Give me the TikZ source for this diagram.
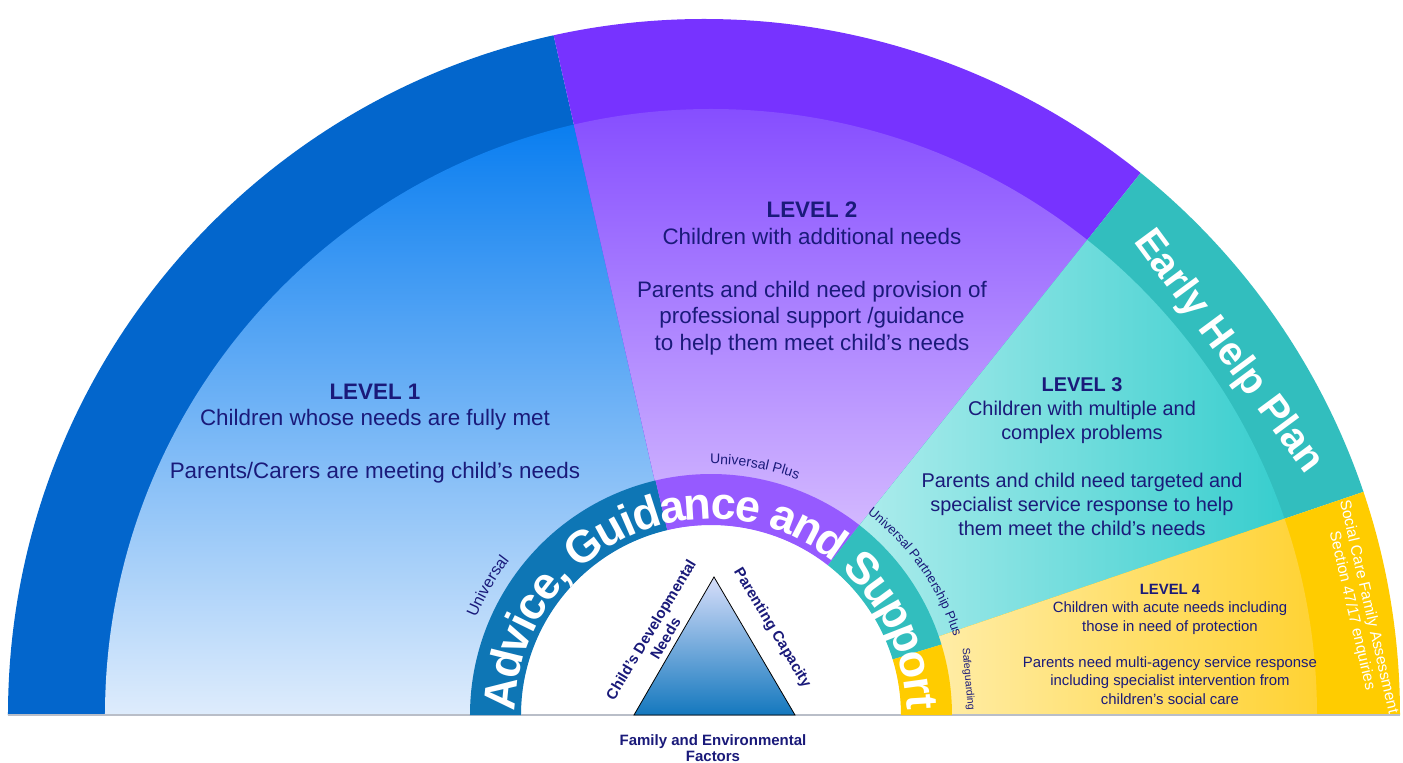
\documentclass[tikz,border=0pt]{standalone}
\usepackage{fontspec}
\setmainfont{Liberation Sans}
\usetikzlibrary{decorations.text}

\definecolor{navy}{RGB}{26,26,122}
\definecolor{bandblue}{RGB}{3,102,204}
\definecolor{bandpurple}{RGB}{119,51,255}
\definecolor{bandteal}{RGB}{50,190,190}
\definecolor{bandyellow}{RGB}{255,204,0}
\definecolor{ringblue}{RGB}{14,118,181}
\definecolor{ringpurple}{RGB}{150,90,255}
\definecolor{ringteal}{RGB}{50,190,190}
\definecolor{ringyellow}{RGB}{255,204,0}
\definecolor{baselinegray}{RGB}{185,190,200}

\begin{document}
\begin{tikzpicture}[x=1pt,y=1pt,
  lvltext/.style={text=navy, align=center, inner sep=0pt, anchor=north},
  whitelabel/.style={text=white, align=center, inner sep=0pt},
  navylabel/.style={text=navy, align=center, inner sep=0pt}]
\useasboundingbox (-708,-48) rectangle (695,715);
\fill[white] (-708,-48) rectangle (695,715);

% ---- Level 1 sector ----
\begin{scope}
  \clip (0,0) -- (102.8:1500) -- (180:1500) -- cycle;
  \fill[bandblue] (-4,0) circle[radius=696];
  \clip (3,0) circle[radius=606];
  \shade[top color={rgb,255:red,8;green,125;blue,240}, bottom color={rgb,255:red,222;green,236;blue,252}] (-615,0) rectangle (0,595);
\end{scope}

% ---- Level 2 sector ----
\begin{scope}
  \clip (0,0) -- (51.4:1500) -- (102.8:1500) -- cycle;
  \fill[bandpurple] (-4,0) circle[radius=696];
  \clip (3,0) circle[radius=606];
  \shade[top color={rgb,255:red,134;green,78;blue,255}, bottom color={rgb,255:red,245;green,232;blue,255}] (-140,0) rectangle (390,606);
\end{scope}

% ---- Level 3 sector ----
\begin{scope}
  \clip (0,0) -- (18.8:1500) -- (51.4:1500) -- cycle;
  \fill[bandteal] (-4,0) circle[radius=696];
  \clip (3,0) circle[radius=606];
  \shade[left color={rgb,255:red,215;green,247;blue,247}, right color={rgb,255:red,45;green,203;blue,203}] (0,0) rectangle (612,480);
\end{scope}

% ---- Level 4 sector ----
\begin{scope}
  \clip (0,0) -- (0:1500) -- (18.8:1500) -- cycle;
  \fill[bandyellow] (-4,0) circle[radius=696];
  \clip (3,0) circle[radius=606];
  \shade[left color={rgb,255:red,255;green,242;blue,190}, right color={rgb,255:red,255;green,210;blue,50}] (150,0) rectangle (612,200);
\end{scope}

% ---- baseline ----
\coordinate (baseL) at (-700,0);
\coordinate (baseR) at (692,0);
\draw[baselinegray, line width=1.8] (baseL) -- (baseR);

% ---- inner ring and white core ----
\begin{scope}[shift={(3,0)}]
  \fill[white] (190,0) arc[start angle=0, end angle=180, radius=190] -- cycle;
  \fill[ringblue] (180:241) arc[start angle=180, end angle=103.3, radius=241]
     -- (103.3:190) arc[start angle=103.3, end angle=180, radius=190] -- cycle;
  \fill[ringpurple] (103.3:241) arc[start angle=103.3, end angle=52, radius=241]
     -- (52:190) arc[start angle=52, end angle=103.3, radius=190] -- cycle;
  \fill[ringteal] (52:241) arc[start angle=52, end angle=17, radius=241]
     -- (17:190) arc[start angle=17, end angle=52, radius=190] -- cycle;
  \fill[ringyellow] (17:241) arc[start angle=17, end angle=0, radius=241]
     -- (0:190) arc[start angle=0, end angle=17, radius=190] -- cycle;
  \draw[baselinegray, line width=1.8] (-190,0) -- (190,0);

  % ring lettering: spaced along a wider arc, lowered onto the ring
  \path[decorate, decoration={text along path, text align=left, raise=-16pt,
     text={|\bfseries\fontsize{45}{45}\selectfont\color{white}|Advice, Guidance and Support}}]
     (178.5:212) arc[start angle=178.5, end angle=-8, radius=212];

  % curved service labels
  \path[decorate, decoration={text along path, text align=center,
     text={|\fontsize{16}{16}\selectfont\color{navy}|Universal}}]
     (175:254) arc[start angle=175, end angle=125, radius=254];
  \path[decorate, decoration={text along path, text align=center,
     text={|\fontsize{14}{14}\selectfont\color{navy}|Universal Plus}}]
     (100:251) arc[start angle=100, end angle=60, radius=251];
  \path[decorate, decoration={text along path, text align=center,
     text={|\fontsize{13}{13}\selectfont\color{navy}|Universal Partnership Plus}}]
     (60:255) arc[start angle=60, end angle=10, radius=255];
\end{scope}

% ---- assessment triangle ----
\coordinate (triL) at (-74,0);
\coordinate (triTop) at (6,138);
\coordinate (triR) at (87,0);
\draw[black, line width=0.8, top color={rgb,255:red,215;green,222;blue,250}, bottom color={rgb,255:red,20;green,120;blue,190}]
  (triL) -- (triTop) -- (triR) -- cycle;

% ---- level texts ----
\node[lvltext, font=\fontsize{22.4}{26.5}\selectfont] (lvlone) at (-333,331.5)
  {\textbf{LEVEL 1}\\Children whose needs are fully met\\[26.5pt]Parents/Carers are meeting child’s needs};
\node[lvltext, font=\fontsize{22.4}{26.5}\selectfont] (lvltwo) at (104,513)
  {\textbf{LEVEL 2}\\Children with additional needs\\[26.5pt]Parents and child need provision of\\professional support /guidance\\to help them meet child’s needs};
\node[lvltext, font=\fontsize{19.9}{24}\selectfont] (lvlthree) at (374,337.5)
  {\textbf{LEVEL 3}\\Children with multiple and\\complex problems\\[24pt]Parents and child need targeted and\\specialist service response to help\\them meet the child’s needs};
\node[lvltext, font=\fontsize{14.9}{18.3}\selectfont] (lvlfour) at (462,131)
  {\textbf{LEVEL 4}\\Children with acute needs including\\those in need of protection\\[18.3pt]Parents need multi-agency service response\\including specialist intervention from\\children’s social care};

% ---- band labels ----
\node[whitelabel, font=\bfseries\fontsize{40}{40}\selectfont, rotate=-53.5] (earlyhelp) at (520,363) {Early Help Plan};
\node[whitelabel, font=\fontsize{15.5}{17}\selectfont, rotate=-77] (socialcare) at (652,106)
  {Social Care Family Assessment\\Section 47/17 enquiries};
\node[navylabel, font=\fontsize{10.5}{10.5}\selectfont, rotate=-85] (safeguard) at (260,36) {Safeguarding};

% ---- triangle labels ----
\node[navylabel, font=\bfseries\fontsize{15}{17}\selectfont, rotate=59] (childdev) at (-50,81)
  {Child’s Developmental\\Needs};
\node[navylabel, font=\bfseries\fontsize{15}{17}\selectfont, rotate=-59] (parenting) at (64,87)
  {Parenting Capacity};
\node[navylabel, font=\bfseries\fontsize{15}{16}\selectfont, anchor=north] (family) at (5,-19.5)
  {Family and Environmental\\Factors};
\end{tikzpicture}
\end{document}
